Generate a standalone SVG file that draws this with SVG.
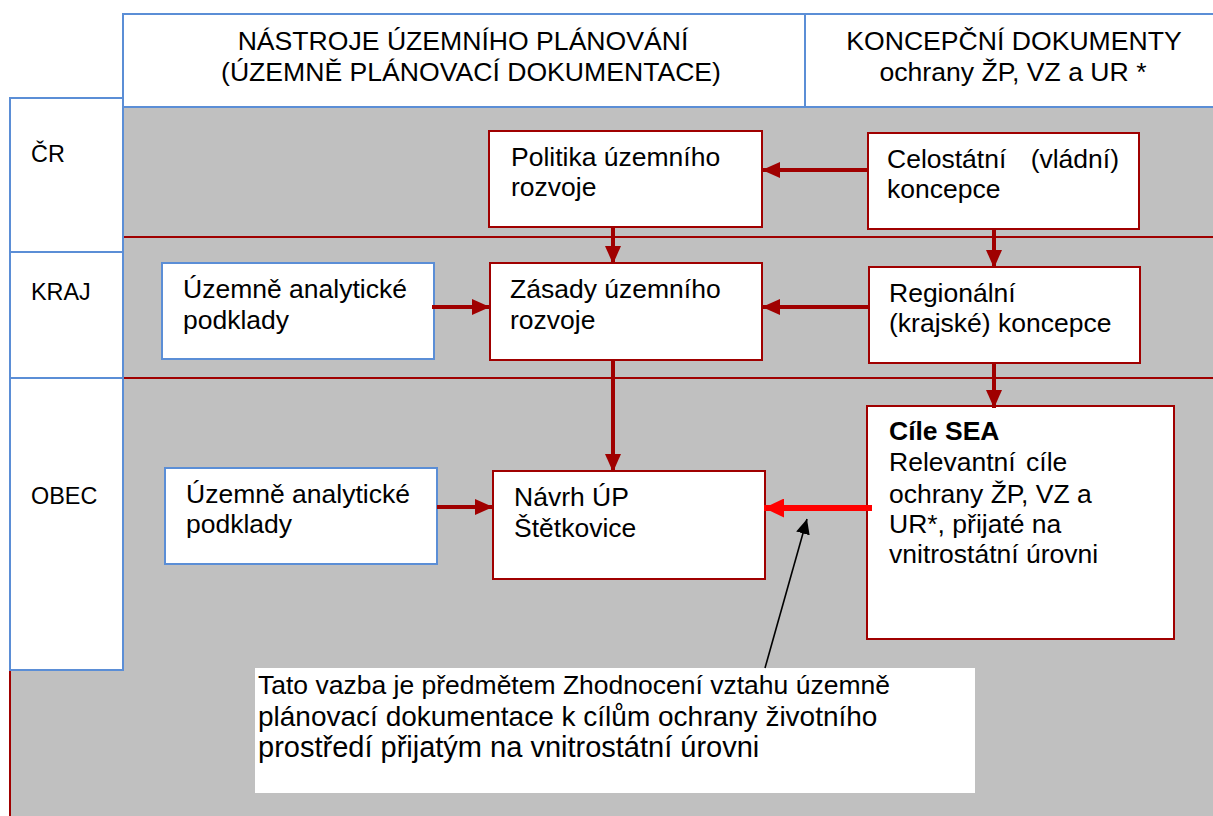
<svg xmlns="http://www.w3.org/2000/svg" width="1213" height="816" viewBox="0 0 1213 816">
<style>
text{font-family:"Liberation Sans",Arial,sans-serif;fill:#000;}
.h{font-size:26.6px;text-anchor:middle;}
.lab{font-size:23.4px;}
.t{font-size:26.5px;}
.b{font-weight:bold;}
.cell{fill:#fff;stroke:#5b8ed6;stroke-width:2;}
.rbox{fill:#fff;stroke:#a00000;stroke-width:2;}
.bbox{fill:#fff;stroke:#5b8ed6;stroke-width:2;}
.c{stroke:#a00000;stroke-width:4;fill:none;}
.sep{stroke:#a00000;stroke-width:2;fill:none;}
</style>
<defs>
<marker id="ah" markerUnits="userSpaceOnUse" markerWidth="18" markerHeight="16" refX="18" refY="8" orient="auto"><path d="M0,0 L18,8 L0,16 z" fill="#a00000"/></marker>
<marker id="ahr" markerUnits="userSpaceOnUse" markerWidth="20" markerHeight="19" refX="20" refY="9.5" orient="auto"><path d="M0,0 L20,9.5 L0,19 z" fill="#ff0000"/></marker>
<marker id="ahk" markerUnits="userSpaceOnUse" markerWidth="15" markerHeight="14" refX="15" refY="7" orient="auto"><path d="M0,0 L15,7 L0,14 z" fill="#000"/></marker>
</defs>
<rect width="1213" height="816" fill="#fff"/>
<g id="background">
<rect x="123" y="107" width="1090" height="709" fill="#c0c0c0"/>
<rect x="10" y="670" width="113" height="146" fill="#c0c0c0"/>
<line x1="10" y1="670" x2="10" y2="816" class="sep"/>
<line x1="123" y1="237" x2="1213" y2="237" class="sep"/>
<line x1="123" y1="378" x2="1213" y2="378" class="sep"/>
</g>
<g id="header">
<rect x="123" y="14" width="1092" height="93" class="cell"/>
<line x1="805" y1="14" x2="805" y2="107" stroke="#5b8ed6" stroke-width="2"/>
<text class="h" x="463" y="50">NÁSTROJE ÚZEMNÍHO PLÁNOVÁNÍ</text>
<text class="h" x="471" y="81">(ÚZEMNĚ PLÁNOVACÍ DOKUMENTACE)</text>
<text class="h" x="1014" y="50">KONCEPČNÍ DOKUMENTY</text>
<text class="h" x="1013" y="81">ochrany ŽP, VZ a UR *</text>
</g>
<g id="row-cr"><rect x="10" y="98" width="113" height="154" class="cell"/><text class="lab" x="31" y="162">ČR</text></g>
<g id="row-kraj"><rect x="10" y="252" width="113" height="126" class="cell"/><text class="lab" x="31" y="300">KRAJ</text></g>
<g id="row-obec"><rect x="10" y="378" width="113" height="292" class="cell"/><text class="lab" x="31" y="504">OBEC</text></g>
<g id="politika"><rect x="489" y="131" width="273" height="96" class="rbox"/><text class="t" x="511" y="166">Politika územního</text><text class="t" x="511" y="196">rozvoje</text></g>
<g id="celostatni"><rect x="868" y="133" width="271" height="96" class="rbox"/><text class="t" x="887" y="168">Celostátní</text><text class="t" x="1119" y="168" text-anchor="end">(vládní)</text><text class="t" x="887" y="198">koncepce</text></g>
<g id="uap-kraj"><rect x="162" y="263" width="272" height="96" class="bbox"/><text class="t" x="183" y="298">Územně analytické</text><text class="t" x="183" y="329">podklady</text></g>
<g id="zasady"><rect x="490" y="263" width="272" height="97" class="rbox"/><text class="t" x="510" y="298">Zásady územního</text><text class="t" x="510" y="329">rozvoje</text></g>
<g id="regionalni"><rect x="869" y="267" width="271" height="96" class="rbox"/><text class="t" x="889" y="302">Regionální</text><text class="t" x="889" y="332">(krajské) koncepce</text></g>
<g id="uap-obec"><rect x="165" y="468" width="272" height="96" class="bbox"/><text class="t" x="186" y="503">Územně analytické</text><text class="t" x="186" y="533">podklady</text></g>
<g id="navrh"><rect x="493" y="471" width="272" height="108" class="rbox"/><text class="t" x="514" y="506">Návrh ÚP</text><text class="t" x="514" y="537">Štětkovice</text></g>
<g id="cile-sea"><rect x="867" y="406" width="307" height="233" class="rbox"/>
<text class="t b" x="889" y="440">Cíle SEA</text>
<text class="t" x="889" y="471" word-spacing="3">Relevantní cíle</text>
<text class="t" x="889" y="503">ochrany ŽP, VZ a</text>
<text class="t" x="889" y="533">UR*, přijaté na</text>
<text class="t" x="889" y="563">vnitrostátní úrovni</text></g>
<g id="note"><rect x="255" y="668" width="720" height="125" fill="#fff"/>
<text x="258" y="694" font-size="26.5">Tato vazba je předmětem Zhodnocení vztahu územně</text>
<text x="258" y="726" font-size="28">plánovací dokumentace k cílům ochrany životního</text>
<text x="258" y="757" font-size="29">prostředí přijatým na vnitrostátní úrovni</text></g>
<g id="connectors">
<line x1="868" y1="170" x2="762" y2="170" class="c" marker-end="url(#ah)"/>
<line x1="613" y1="227" x2="613" y2="264" class="c" marker-end="url(#ah)"/>
<line x1="994" y1="229" x2="994" y2="268" class="c" marker-end="url(#ah)"/>
<line x1="432" y1="307" x2="490" y2="307" class="c" marker-end="url(#ah)"/>
<line x1="869" y1="307" x2="762" y2="307" class="c" marker-end="url(#ah)"/>
<line x1="613" y1="360" x2="613" y2="472" class="c" marker-end="url(#ah)"/>
<line x1="994" y1="363" x2="994" y2="408" class="c" marker-end="url(#ah)"/>
<line x1="437" y1="507" x2="493" y2="507" class="c" marker-end="url(#ah)"/>
<line x1="872" y1="508" x2="764" y2="508" stroke="#ff0000" stroke-width="6" marker-end="url(#ahr)"/>
<line x1="765" y1="668" x2="807" y2="519" stroke="#000" stroke-width="1.6" marker-end="url(#ahk)"/>
</g>
</svg>
